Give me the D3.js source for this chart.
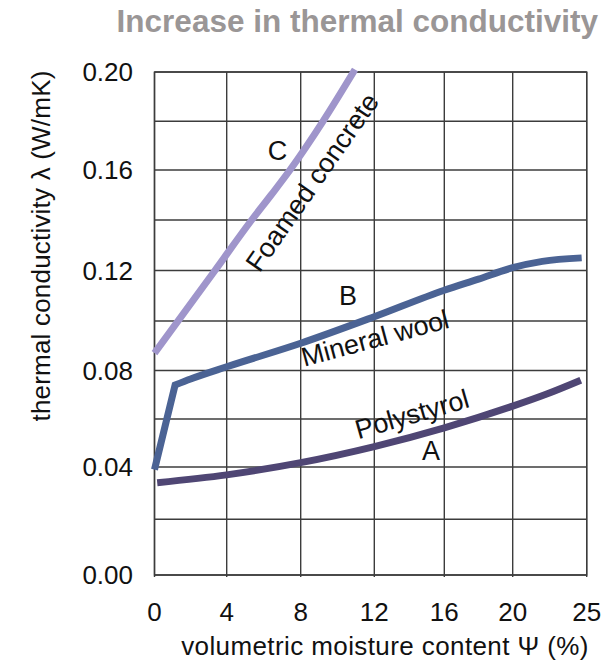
<!DOCTYPE html>
<html>
<head>
<meta charset="utf-8">
<script src="https://cdn.jsdelivr.net/npm/d3@7"></script>
<style>
  html, body { margin: 0; padding: 0; background: #ffffff; }
  svg { display: block; font-family: "Liberation Sans", Arial, Helvetica, sans-serif; }
</style>
</head>
<body>
<svg id="chart" width="603" height="665"></svg>
<script>
// ---- data ----
const xTickValues = [0, 4, 8, 12, 16, 20, 25];
const yTickValues = [0.00, 0.04, 0.08, 0.12, 0.16, 0.20];
const yGridValues = [0.00, 0.02, 0.04, 0.06, 0.08, 0.10, 0.12, 0.14, 0.16, 0.18, 0.20];

// A - Polystyrol
const polystyrolX = [0.15, 4, 8, 12, 16, 20, 22.3, 24.6];
const polystyrolY = [0.034, 0.037, 0.0418, 0.0485, 0.0563, 0.0653, 0.0703, 0.076];

// B - Mineral wool (sharp rise up to the knee at ~1.1 %, then a smooth curve)
const mineralWoolX = [0, 1.14, 2, 4, 8, 12, 16, 18, 20, 22, 24.66];
const mineralWoolY = [0.039, 0.074, 0.0765, 0.0815, 0.091, 0.1017, 0.1122, 0.1166, 0.1211, 0.1236, 0.125];

// C - Foamed concrete
const foamedConcreteX = [0, 3.35, 5.35, 6.4, 7.42, 9.21, 10.95];
const foamedConcreteY = [0.087, 0.12, 0.14, 0.15, 0.16, 0.18, 0.201];

const titleText = "Increase in thermal conductivity";
const xTitle = "volumetric moisture content \u03A8 (%)";
const yTitle = "thermal conductivity \u03BB (W/mK)";

// ---- layout ----
const svg = d3.select("#chart");
const plotLeft = 154.5, plotRight = 586.7, plotTop = 72, plotBottom = 575;

// grid columns / rows as drawn in the original (non-uniform spacing)
const x = d3.scaleLinear()
  .domain(xTickValues)
  .range([plotLeft, 226.7, 300.7, 374.3, 444.3, 512.7, plotRight]);
const y = d3.scaleLinear()
  .domain(yGridValues)
  .range([plotBottom, 519.3, 467, 419, 370.5, 321, 270.5, 220, 170, 121.3, plotTop]);

// ---- title ----
svg.append("text")
  .attr("x", 598).attr("y", 32)
  .attr("text-anchor", "end")
  .attr("font-size", 31.5).attr("font-weight", "bold")
  .attr("fill", "#9a9696")
  .text(titleText);

// ---- grid ----
const grid = svg.append("g").attr("stroke", "#3c3c3c").attr("stroke-width", 1.4).attr("fill", "none");
grid.selectAll("line.v").data(xTickValues).join("line")
  .attr("class", "v")
  .attr("x1", d => x(d)).attr("x2", d => x(d))
  .attr("y1", plotTop).attr("y2", plotBottom + 2);
grid.selectAll("line.h").data(yGridValues).join("line")
  .attr("class", "h")
  .attr("x1", plotLeft).attr("x2", plotRight)
  .attr("y1", d => y(d)).attr("y2", d => y(d));
grid.append("rect")
  .attr("x", plotLeft).attr("y", plotTop)
  .attr("width", plotRight - plotLeft).attr("height", plotBottom - plotTop);

// ---- tick labels ----
svg.append("g").selectAll("text").data(yTickValues).join("text")
  .attr("x", 133).attr("y", d => y(d) + 9)
  .attr("text-anchor", "end")
  .attr("font-size", 26).attr("fill", "#111")
  .text(d => d3.format(".2f")(d));

svg.append("g").selectAll("text").data(xTickValues).join("text")
  .attr("x", d => x(d)).attr("y", 621)
  .attr("text-anchor", "middle")
  .attr("font-size", 26).attr("fill", "#111")
  .text(d => d);

// ---- axis titles ----
svg.append("text")
  .attr("x", 385).attr("y", 655)
  .attr("text-anchor", "middle")
  .attr("font-size", 26).attr("letter-spacing", "0.4px").attr("fill", "#111")
  .text(xTitle);

svg.append("text")
  .attr("transform", "translate(50,246) rotate(-90)")
  .attr("text-anchor", "middle")
  .attr("font-size", 26).attr("letter-spacing", "0.2px").attr("fill", "#111")
  .text(yTitle);

// ---- curves ----
const smooth = d3.line().x(d => x(d[0])).y(d => y(d[1])).curve(d3.curveMonotoneX);
const toPts = (xs, ys) => xs.map((v, i) => [v, ys[i]]);

// C
svg.append("path")
  .datum(toPts(foamedConcreteX, foamedConcreteY))
  .attr("fill", "none").attr("stroke", "#9f95cb").attr("stroke-width", 7)
  .attr("d", smooth);

// B: straight rise to the knee, then smooth curve, as one path
const bPts = toPts(mineralWoolX, mineralWoolY);
const bRest = smooth(bPts.slice(1));
svg.append("path")
  .attr("fill", "none").attr("stroke", "#4b6394").attr("stroke-width", 7)
  .attr("stroke-linejoin", "miter")
  .attr("d", `M${x(bPts[0][0])},${y(bPts[0][1])}L` + bRest.slice(1));

// A
svg.append("path")
  .datum(toPts(polystyrolX, polystyrolY))
  .attr("fill", "none").attr("stroke", "#4f4674").attr("stroke-width", 7)
  .attr("d", smooth);

// ---- curve labels ----
const labels = [
  { t: "C", px: 277.5, py: 160 },
  { t: "B", px: 348, py: 305 },
  { t: "A", px: 431, py: 460 }
];
svg.append("g").selectAll("text").data(labels).join("text")
  .attr("x", d => d.px).attr("y", d => d.py)
  .attr("text-anchor", "middle")
  .attr("font-size", 27).attr("fill", "#111")
  .text(d => d.t);

const rotLabels = [
  { t: "Foamed concrete", cx: 312, cy: 182, rot: -55 },
  { t: "Mineral wool", cx: 375, cy: 338, rot: -15 },
  { t: "Polystyrol", cx: 412, cy: 414, rot: -16 }
];
svg.append("g").selectAll("text").data(rotLabels).join("text")
  .attr("transform", d => `translate(${d.cx},${d.cy}) rotate(${d.rot})`)
  .attr("text-anchor", "middle")
  .attr("dy", "0.35em")
  .attr("font-size", 27).attr("fill", "#111")
  .text(d => d.t);
</script>
</body>
</html>
